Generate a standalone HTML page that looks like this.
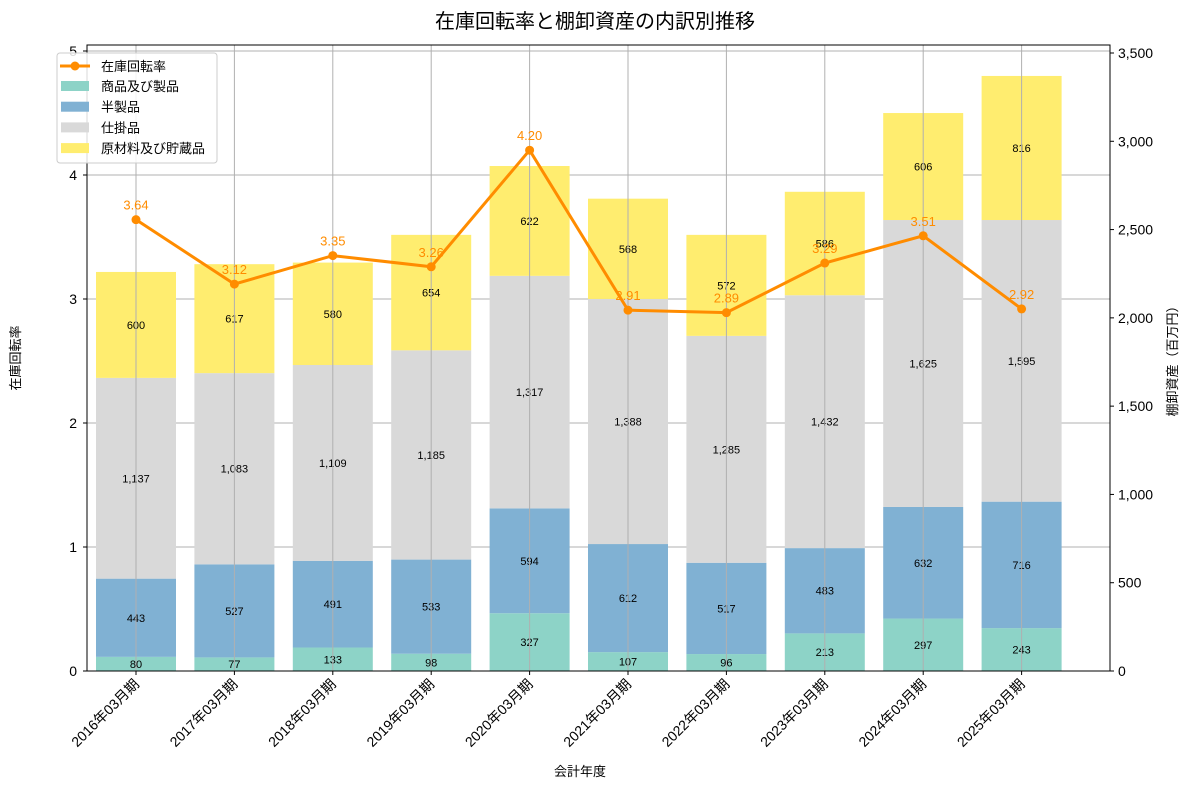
<!DOCTYPE html>
<html><head><meta charset="utf-8">
<style>
body{margin:0;background:#fff;}
svg text{font-family:"Liberation Sans","Noto Sans CJK JP",sans-serif;}
</style></head>
<body>
<svg id="chart" width="1190" height="789" xmlns="http://www.w3.org/2000/svg">
<text x="595" y="28" text-anchor="middle" font-size="20" fill="#000">在庫回転率と棚卸資産の内訳別推移</text>
<g id="grid"></g><g id="bars"></g><g id="line"></g><g id="axes"></g>
</svg>
<script>
const categories=["2016年03月期","2017年03月期","2018年03月期","2019年03月期","2020年03月期","2021年03月期","2022年03月期","2023年03月期","2024年03月期","2025年03月期"];
const products=[80,77,133,98,327,107,96,213,297,243];
const semiFinished=[443,527,491,533,594,612,517,483,632,716];
const wip=[1137,1083,1109,1185,1317,1388,1285,1432,1625,1595];
const rawMaterials=[600,617,580,654,622,568,572,586,606,816];
const turnover=[3.64,3.12,3.35,3.26,4.20,2.91,2.89,3.29,3.51,2.92];
const leftTicks=[0,1,2,3,4,5];
const rightTicks=[0,500,1000,1500,2000,2500,3000,3500];

const NS="http://www.w3.org/2000/svg";
const L=87,R=1110,T=45,B=671;
const xPos=i=>136+i*98.4;
const yL=v=>B-v*124;
const yR=v=>B-v*(618/3500);
function mk(tag,attrs,parent,txt){const e=document.createElementNS(NS,tag);for(const k in attrs)e.setAttribute(k,attrs[k]);if(txt!==undefined)e.textContent=txt;parent.appendChild(e);return e;}
const grid=document.getElementById('grid'),bars=document.getElementById('bars'),line=document.getElementById('line'),axes=document.getElementById('axes');
const fmt=v=>v.toLocaleString('en-US');

leftTicks.forEach(t=>{
  const g=mk('line',{x1:L,x2:R,y1:yL(t),y2:yL(t),stroke:'#b0b0b0','stroke-width':1},grid);
  
  const tl=mk('text',{x:L-10,y:yL(t)+5,'text-anchor':'end','font-size':14},axes,String(t));
  
  mk('line',{x1:L-4,x2:L,y1:yL(t),y2:yL(t),stroke:'#000'},axes);
});
rightTicks.forEach(t=>{
  const tl=mk('text',{x:R+8,y:yR(t)+5,'font-size':14},axes,fmt(t));
  
  mk('line',{x1:R,x2:R+4,y1:yR(t),y2:yR(t),stroke:'#000'},axes);
});
const series=[[products,'#8dd3c7','products'],[semiFinished,'#80b1d3','semi-finished'],[wip,'#d9d9d9','wip'],[rawMaterials,'#ffed6f','raw-materials']];
categories.forEach((c,i)=>{
  const x=xPos(i);
  let base=0;
  series.forEach(([arr,col,nm])=>{
    const v=arr[i];
    const r=mk('rect',{x:x-40,width:80,y:yR(base+v),height:yR(base)-yR(base+v),fill:col},bars);
    
    const lt=mk('text',{x:x,y:yR(base+v/2)+4,'text-anchor':'middle','font-size':11},bars,fmt(v));
    
    base+=v;
  });
  const vg=mk('line',{x1:x,x2:x,y1:T,y2:B,stroke:'#b0b0b0','stroke-width':1},bars);
  
  mk('line',{x1:x,x2:x,y1:B,y2:B+4,stroke:'#000'},axes);
  const xl=mk('text',{transform:`translate(${x+4},${B+14}) rotate(-45)`,'text-anchor':'end','font-size':14},axes,c);
  
});
const pts=turnover.map((v,i)=>xPos(i)+','+yL(v)).join(' ');
const pl=mk('polyline',{points:pts,fill:'none',stroke:'#ff8c00','stroke-width':3},line);

turnover.forEach((v,i)=>{
  const c=mk('circle',{cx:xPos(i),cy:yL(v),r:4.5,fill:'#ff8c00'},line);
  
  const t=mk('text',{x:xPos(i),y:yL(v)-10,'text-anchor':'middle','font-size':13,fill:'#ff8c00'},line,v.toFixed(2));
  
});
const fr=mk('rect',{x:L,y:T,width:R-L,height:B-T,fill:'none',stroke:'#000','stroke-width':1},axes);

let t;
t=mk('text',{x:580,y:776,'text-anchor':'middle','font-size':13},axes,'会計年度');

t=mk('text',{transform:'translate(20,358) rotate(-90)','text-anchor':'middle','font-size':13},axes,'在庫回転率');

t=mk('text',{transform:'translate(1177,358) rotate(-90)','text-anchor':'middle','font-size':13},axes,'棚卸資産（百万円）');

// legend
const lg=mk('g',{},axes);

mk('rect',{x:57,y:53,width:160,height:110,rx:3,fill:'#fff','fill-opacity':0.85,stroke:'#ccc'},lg);
mk('line',{x1:60,x2:90,y1:66,y2:66,stroke:'#ff8c00','stroke-width':3},lg);
mk('circle',{cx:75,cy:66,r:4.5,fill:'#ff8c00'},lg);
t=mk('text',{x:101,y:71,'font-size':13},lg,'在庫回転率');

const names=['商品及び製品','半製品','仕掛品','原材料及び貯蔵品'];
series.forEach(([a,col],k)=>{
  const y=86+k*20.7;
  mk('rect',{x:61,y:y-5,width:28,height:10,fill:col},lg);
  t=mk('text',{x:101,y:y+5,'font-size':13},lg,names[k]);
  
});
</script>
</body></html>
